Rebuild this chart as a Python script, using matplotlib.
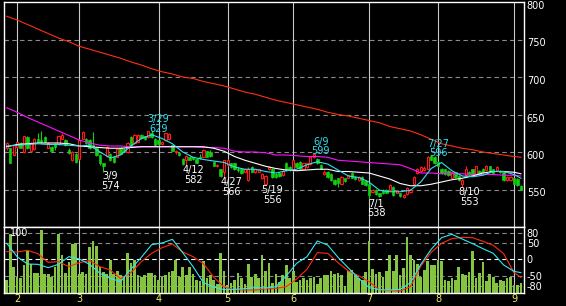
import matplotlib
matplotlib.use("Agg")
import matplotlib.pyplot as plt
import matplotlib.transforms as mtransforms
import numpy as np

# daily candles, trading-day index 0..149 (end of Jan .. start of Sep)
opens = [605, 605, 596, 607, 612, 600, 620, 601, 604, 618,
         616, 620, 606, 607, 611, 611, 618, 616, 603, 589,
         598, 591, 618, 617, 616, 610, 606, 596, 585, 595,
         598, 594, 594, 606, 604, 600, 620, 612, 614, 623,
         621, 620, 626, 618, 616, 611, 616, 617, 609, 600,
         599, 591, 589, 594, 593, 591, 594, 594, 601, 600,
         587, 581, 577, 574, 583, 585, 585, 578, 577, 574,
         563, 580, 573, 574, 565, 558, 577, 578, 571, 572,
         569, 585, 580, 576, 586, 587, 578, 580, 584, 593,
         591, 583, 571, 574, 571, 563, 565, 558, 565, 566,
         572, 567, 563, 567, 562, 558, 547, 550, 545, 550,
         550, 549, 554, 546, 545, 540, 544, 547, 557, 572,
         575, 576, 578, 595, 594, 587, 578, 577, 575, 566,
         573, 568, 557, 569, 574, 577, 571, 575, 578, 576,
         581, 577, 576, 575, 574, 563, 563, 565, 564, 555]
closes = [612, 586, 609, 613, 606, 621, 605, 612, 618, 614,
          613, 614, 612, 602, 607, 621, 623, 609, 599, 600,
          587, 616, 627, 612, 605, 608, 596, 585, 582, 607,
          590, 587, 604, 598, 601, 612, 608, 623, 623, 619,
          617, 628, 620, 609, 611, 614, 625, 624, 602, 602,
          596, 584, 595, 590, 591, 586, 592, 603, 594, 595,
          582, 583, 568, 589, 590, 580, 577, 576, 572, 577,
          578, 574, 577, 577, 571, 568, 580, 567, 567, 568,
          575, 576, 576, 589, 580, 577, 585, 585, 593, 598,
          585, 578, 574, 567, 563, 557, 559, 567, 561, 569,
          566, 564, 567, 558, 556, 543, 549, 544, 541, 545,
          546, 556, 543, 549, 541, 543, 552, 550, 567, 578,
          580, 579, 594, 590, 585, 581, 572, 571, 569, 574,
          567, 563, 563, 578, 570, 570, 581, 571, 573, 582,
          575, 572, 580, 573, 563, 567, 567, 558, 556, 550]
highs = [614, 606, 610, 614, 613, 622, 621, 613, 619, 625,
         628, 622, 613, 608, 612, 622, 625, 617, 605, 601,
         599, 617, 628, 619, 617, 627, 607, 597, 586, 608,
         599, 595, 605, 607, 605, 613, 621, 624, 624, 624,
         622, 628, 629, 619, 617, 615, 626, 626, 610, 603,
         600, 592, 596, 595, 594, 592, 597, 604, 602, 603,
         588, 584, 578, 590, 591, 586, 586, 580, 578, 578,
         580, 581, 578, 578, 572, 569, 582, 579, 572, 573,
         576, 587, 581, 590, 587, 588, 586, 586, 594, 599,
         592, 584, 576, 575, 572, 564, 566, 568, 566, 570,
         573, 568, 568, 568, 563, 559, 551, 551, 546, 551,
         551, 558, 555, 550, 546, 544, 553, 551, 568, 579,
         581, 581, 595, 596, 595, 588, 579, 578, 576, 575,
         574, 569, 564, 581, 575, 578, 582, 576, 579, 583,
         582, 578, 581, 576, 575, 568, 568, 566, 565, 556]
lows = [603, 585, 595, 606, 605, 599, 604, 600, 603, 613,
        612, 613, 605, 601, 603, 610, 617, 608, 598, 588,
        586, 590, 617, 611, 604, 605, 595, 583, 574, 594,
        588, 585, 593, 597, 600, 599, 607, 611, 613, 618,
        616, 619, 619, 608, 610, 610, 615, 616, 601, 597,
        595, 583, 582, 589, 590, 585, 591, 593, 593, 594,
        581, 580, 567, 566, 582, 579, 576, 573, 571, 573,
        562, 573, 572, 573, 564, 556, 576, 566, 566, 567,
        568, 575, 575, 575, 579, 576, 577, 579, 583, 592,
        584, 577, 569, 566, 562, 556, 554, 557, 560, 565,
        565, 563, 562, 557, 555, 538, 545, 543, 540, 544,
        545, 548, 542, 545, 540, 539, 543, 546, 556, 571,
        574, 575, 577, 589, 584, 580, 571, 570, 568, 565,
        566, 562, 553, 568, 569, 569, 570, 570, 572, 575,
        574, 571, 575, 572, 562, 562, 562, 557, 555, 549]
volume = [19, 90, 40, 24, 22, 42, 64, 44, 30, 30,
          96, 29, 29, 24, 39, 89, 57, 30, 47, 75,
          76, 29, 32, 29, 70, 79, 71, 39, 32, 29,
          50, 29, 34, 27, 24, 61, 45, 50, 28, 25,
          28, 30, 30, 28, 19, 24, 28, 32, 33, 50,
          24, 40, 27, 39, 29, 20, 18, 49, 23, 27,
          19, 13, 61, 33, 12, 15, 20, 30, 22, 14,
          44, 25, 29, 23, 57, 33, 45, 15, 29, 17,
          27, 43, 22, 34, 17, 19, 22, 20, 22, 25,
          14, 23, 28, 28, 34, 29, 30, 27, 10, 34,
          35, 27, 23, 19, 32, 79, 37, 29, 32, 25,
          33, 57, 34, 57, 27, 38, 85, 57, 50, 44,
          24, 35, 49, 42, 42, 50, 49, 19, 18, 22,
          20, 39, 29, 28, 32, 64, 23, 30, 47, 18,
          29, 24, 15, 20, 18, 23, 25, 12, 12, 15]

# averages and oscillators, read every third trading day
line_days = list(range(0, 148, 3)) + [149]
ma_short = [608, 609, 610, 611, 610, 610, 609, 608, 609, 600,
            592, 596, 608, 618, 623, 618, 611, 600, 593, 590,
            588, 586, 580, 577, 577, 574, 572, 575, 577, 583,
            587, 584, 576, 568, 566, 560, 549, 547, 547, 549,
            560, 578, 586, 575, 568, 567, 569, 574, 574, 570, 565]
ma_mid = [607, 610, 611, 612, 612, 612, 611, 608, 607, 606,
          605, 605, 606, 607, 607, 607, 607, 607, 607, 607,
          605, 601, 594, 589, 585, 581, 578, 576, 575, 576,
          577, 577, 574, 574, 573, 572, 568, 564, 558, 555,
          555, 557, 560, 563, 565, 568, 572, 574, 574, 573, 571]
ma_13w = [659, 653, 646, 640, 634, 628, 622, 616, 612, 609,
          608, 608, 607, 607, 607, 607, 607, 607, 607, 606,
          606, 605, 601, 600, 600, 599, 596, 596, 595, 594,
          594, 593, 589, 588, 587, 586, 585, 584, 583, 578,
          572, 572, 571, 571, 571, 570, 570, 570, 569, 569, 568]
ma_26w = [781, 776, 770, 764, 758, 752, 747, 741, 737, 733,
          729, 725, 720, 716, 711, 707, 704, 700, 698, 694,
          691, 688, 684, 680, 677, 673, 669, 666, 663, 660,
          657, 653, 650, 648, 645, 642, 639, 634, 631, 628,
          623, 617, 611, 608, 605, 603, 600, 598, 596, 594, 593]
osc_fast = [48, 8, -14, -15, -25, -15, 8, 1, -15, -42,
            -57, -67, -29, 6, 44, 49, 60, 20, -22, -70,
            -83, -91, -90, -88, -85, -86, -82, -50, -12, 8,
            55, 43, 6, -26, -57, -85, -91, -92, -90, -70,
            -15, 30, 65, 75, 61, 47, 32, 18, -17, -36, -40]
osc_slow = [23, 22, 27, 17, -9, -7, -22, -10, -4, -22,
            -32, -58, -40, -7, 18, 35, 46, 22, 8, -13,
            -54, -83, -91, -92, -92, -89, -87, -82, -59, -30,
            20, 18, -10, -35, -49, -67, -91, -94, -95, -82,
            -20, 21, 48, 62, 66, 65, 54, 42, 17, -40, -54]

month_days = [3, 21, 44, 64, 83, 105, 125, 147]
month_labels = ["2", "3", "4", "5", "6", "7", "8", "9"]
price_ticks = [550, 600, 650, 700, 750, 800]
osc_ticks = [80, 50, 0, -50, -80]
osc_labels = ["80", "50", "0", "-50", "-80"]

# (date, price, trading day, kind)
marks = [("3/9", 574, 28, "low"), ("3/29", 629, 42, "high"),
         ("4/12", 582, 52, "low"), ("4/27", 566, 63, "low"),
         ("5/19", 556, 75, "low"), ("6/9", 599, 89, "high"),
         ("7/1", 538, 105, "low"), ("7/27", 596, 123, "high"),
         ("8/10", 553, 132, "low")]

UP, DOWN = "#ff1a1a", "#10d010"
GRID = "#8a8a8a"
FS = 7

days = np.arange(len(opens))
o, c = np.array(opens), np.array(closes)
up = c >= o

fig = plt.figure(figsize=(5.66, 3.06), dpi=100, facecolor="black")
ax = fig.add_axes([4 / 566, 79 / 306, 520 / 566, 225 / 306], facecolor="black")
axl = fig.add_axes([4 / 566, 13 / 306, 520 / 566, 66 / 306], facecolor="black")
xlim = (-0.8, 149.9)

# --- price panel
for v in price_ticks[:-1]:
    ax.axhline(v, color=GRID, lw=0.8, dashes=(4, 3), zorder=1)
for d in month_days:
    ax.axvline(d, color="#c8c8c8", lw=0.8, zorder=1)

ax.vlines(days[up], np.array(lows)[up], np.array(highs)[up], color=UP, lw=0.8, zorder=2)
ax.vlines(days[~up], np.array(lows)[~up], np.array(highs)[~up], color=DOWN, lw=0.8, zorder=2)
body = np.maximum(np.abs(c - o), 0.7)
ax.bar(days[up], body[up], bottom=o[up], width=0.62, facecolor="black",
       edgecolor=UP, lw=0.8, zorder=3)
ax.bar(days[~up], body[~up], bottom=c[~up], width=0.7, facecolor=DOWN,
       edgecolor=DOWN, lw=0.5, zorder=3)

ax.plot(line_days, ma_26w, color="#ff3010", lw=0.8, zorder=4)
ax.plot(line_days, ma_13w, color="#ff10ff", lw=0.8, zorder=4)
ax.plot(line_days, ma_mid, color="white", lw=0.8, zorder=4)
ax.plot(line_days, ma_short, color="#30e0f0", lw=0.8, zorder=4)

for label, val, d, kind in marks:
    if kind == "high":
        ax.text(d + 2, val - 2, f"{label}\n{val}", color="#30e0f0", fontsize=FS,
                ha="center", va="baseline", linespacing=0.95, zorder=5)
    else:
        ax.text(d + 2, val, f"{label}\n{val}", color="white", fontsize=FS,
                ha="center", va="top", linespacing=0.95, zorder=5)

ax.set_xlim(*xlim)
ax.set_ylim(500, 800)
ax.set_xticks([])
ax.set_yticks(price_ticks)
ax.yaxis.tick_right()
ax.tick_params(axis="y", length=0, pad=2, labelsize=FS, labelcolor="white")
# price labels sit a little under their grid line
shift = mtransforms.ScaledTranslation(0, -3 / 100, fig.dpi_scale_trans)
for lab in ax.get_yticklabels():
    lab.set_transform(lab.get_transform() + shift)

# --- volume / oscillator panel
axl.set_xlim(*xlim)
axl.set_ylim(-101, 97)
for v in osc_ticks:
    axl.axhline(v, color="white" if v == 0 else GRID, lw=0.8, dashes=(4, 3), zorder=1)
for d in month_days:
    axl.axvline(d, color="#c8c8c8", lw=0.8, zorder=1)

vol_trans = mtransforms.blended_transform_factory(axl.transData, axl.transAxes)
axl.bar(days, np.array(volume) / 100.0, width=0.78, color="#84c441",
        transform=vol_trans, zorder=2)
axl.plot(line_days, osc_slow, color="#ff2a10", lw=0.8, zorder=3)
axl.plot(line_days, osc_fast, color="#30e8f4", lw=0.8, zorder=3)
axl.text(0.011, 0.985, "100", transform=axl.transAxes, color="white",
         fontsize=FS, ha="left", va="top", zorder=4)

axl.set_yticks(osc_ticks)
axl.set_yticklabels(osc_labels)
axl.yaxis.tick_right()
axl.tick_params(axis="y", length=0, pad=2, labelsize=FS, labelcolor="white")
axl.set_xticks(month_days)
axl.set_xticklabels(month_labels)
axl.tick_params(axis="x", length=0, pad=1, labelsize=FS, labelcolor="#f2ee6a")

for a in (ax, axl):
    for s in a.spines.values():
        s.set_color("white")
        s.set_linewidth(1.0)

fig.savefig("out.png", dpi=100, facecolor="black")
